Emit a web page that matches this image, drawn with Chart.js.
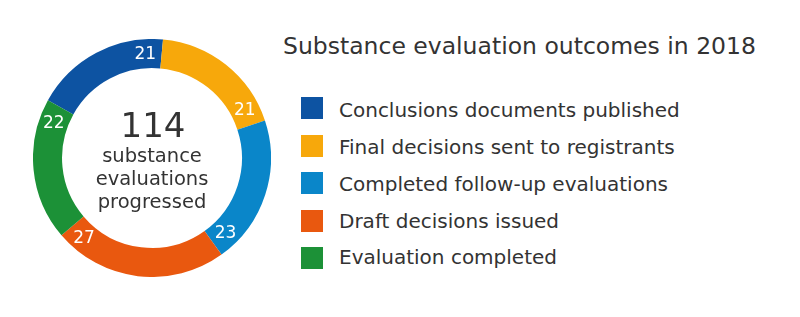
<!DOCTYPE html>
<html>
<head>
<meta charset="utf-8">
<script src="https://cdn.jsdelivr.net/npm/chart.js@4/dist/chart.umd.min.js"></script>
<style>
    body { margin: 0; background: #fff; font-family: "DejaVu Sans", Verdana, sans-serif; color: #333; }
    #page { position: relative; width: 800px; height: 317px; overflow: hidden; }
    #chartBox { position: absolute; left: 33px; top: 39px; width: 238px; height: 238px; }
    #title { position: absolute; left: 283px; top: 35px; font-size: 23.5px; line-height: 23.5px; white-space: nowrap; }
    .legend-box { position: absolute; left: 301px; width: 22px; height: 22px; }
    .legend-text { position: absolute; left: 339px; font-size: 20px; line-height: 20px; white-space: nowrap; }
</style>
</head>
<body>
<div id="page">
    <div id="chartBox"><canvas id="outcomesChart"></canvas></div>
    <div id="title">Substance evaluation outcomes in 2018</div>
    <div id="legend"></div>
</div>
<script>
// chart data
const categories = [
    'Conclusions documents published',
    'Final decisions sent to registrants',
    'Completed follow-up evaluations',
    'Draft decisions issued',
    'Evaluation completed'
];
const outcomeCounts = [21, 21, 23, 27, 22];
const sliceColors = ['#0d53a2', '#f7a80b', '#0a86c9', '#e9580f', '#1c9137'];
const centerLines = ['substance', 'evaluations', 'progressed'];

// big total + caption in the hole
const centerTextPlugin = {
    id: 'centerText',
    afterDraw(chart) {
        const ctx = chart.ctx;
        const arc = chart.getDatasetMeta(0).data[0];
        if (!arc) return;
        const cx = arc.x, cy = arc.y;
        const total = chart.data.datasets[0].data.reduce((a, b) => a + b, 0);
        ctx.save();
        ctx.fillStyle = '#333';
        ctx.textAlign = 'center';
        ctx.textBaseline = 'alphabetic';
        ctx.font = '34px "DejaVu Sans"';
        ctx.fillText(String(total), cx + 1, cy - 21);
        ctx.font = '19.5px "DejaVu Sans"';
        centerLines.forEach((line, i) => {
            ctx.fillText(line, cx, cy + 4 + i * 23);
        });
        ctx.restore();
    }
};

// value labels near the end of each slice
const arcLabelPlugin = {
    id: 'arcLabels',
    afterDatasetsDraw(chart) {
        const ctx = chart.ctx;
        const values = chart.data.datasets[0].data;
        ctx.save();
        ctx.fillStyle = '#fff';
        ctx.font = '17px "DejaVu Sans"';
        ctx.textAlign = 'center';
        ctx.textBaseline = 'middle';
        chart.getDatasetMeta(0).data.forEach((arc, i) => {
            const p = arc.getProps(['x', 'y', 'endAngle', 'innerRadius', 'outerRadius'], true);
            const ang = p.endAngle - 9 * Math.PI / 180;
            const r = (p.innerRadius + p.outerRadius) / 2;
            ctx.fillText(values[i], p.x + Math.cos(ang) * r, p.y + Math.sin(ang) * r + 1);
        });
        ctx.restore();
    }
};

const ctx = document.getElementById('outcomesChart').getContext('2d');
const outcomesChart = new Chart(ctx, {
    type: 'doughnut',
    data: {
        labels: categories,
        datasets: [{
            data: outcomeCounts,
            backgroundColor: sliceColors,
            borderWidth: 0
        }]
    },
    options: {
        responsive: true,
        maintainAspectRatio: false,
        animation: false,
        rotation: -61,
        cutout: '75.6%',
        layout: { padding: 0 },
        plugins: {
            legend: { display: false },
            tooltip: { enabled: false }
        }
    },
    plugins: [centerTextPlugin, arcLabelPlugin]
});

// html legend built from the chart's own legend items
function buildLegend(chart) {
    const holder = document.getElementById('legend');
    holder.innerHTML = '';
    const items = chart.options.plugins.legend.labels.generateLabels(chart);
    items.forEach((item, i) => {
        const box = document.createElement('div');
        box.className = 'legend-box';
        box.style.top = (97 + i * 37.6) + 'px';
        box.style.background = item.fillStyle;
        holder.appendChild(box);

        const txt = document.createElement('div');
        txt.className = 'legend-text';
        txt.style.top = (99.8 + i * 36.9) + 'px';
        txt.textContent = item.text;
        holder.appendChild(txt);
    });
}
buildLegend(outcomesChart);
</script>
</body>
</html>
